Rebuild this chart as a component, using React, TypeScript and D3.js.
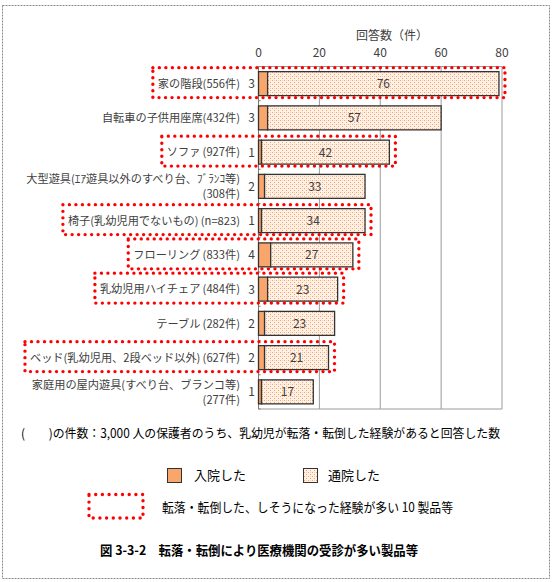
import React, { useEffect, useRef } from "react";
import * as d3 from "d3";

const categories: string[][] = [
  ["家の階段(556件)"],
  ["自転車の子供用座席(432件)"],
  ["ソファ\u2009(927件)"],
  ["大型遊具(ｴｱ遊具以外のすべり台、ﾌﾞﾗﾝｺ等)", "(308件)"],
  ["椅子(乳幼児用でないもの)\u2009(n=823)"],
  ["フローリング\u2009(833件)"],
  ["乳幼児用ハイチェア\u2009(484件)"],
  ["テーブル\u2009(282件)"],
  ["ベッド(乳幼児用、2段ベッド以外)\u2009(627件)"],
  ["家庭用の屋内遊具(すべり台、ブランコ等)", "(277件)"],
];
const hospitalized = [3, 3, 1, 2, 1, 4, 3, 2, 2, 1];
const outpatient = [76, 57, 42, 33, 34, 27, 23, 23, 21, 17];
const highlighted = [true, false, true, false, true, true, true, false, true, false];
const xTicks = [0, 20, 40, 60, 80];

const axisTitle = "回答数（件）";
const footnote = "(　　)の件数：3,000 人の保護者のうち、乳幼児が転落・転倒した経験があると回答した数";
const legendHosp = "入院した";
const legendOut = "通院した";
const legendBox = "転落・転倒した、しそうになった経験が多い 10 製品等";
const caption = "図 3-3-2　転落・転倒により医療機関の受診が多い製品等";

const FONT = "'Noto Sans CJK JP', 'Noto Sans', sans-serif";
const W = 557;
const H = 582;

export default function App() {
  const ref = useRef<SVGSVGElement>(null);
  useEffect(() => {
    const svg = d3.select(ref.current);
    svg.selectAll("*").remove();

    const defs = svg.append("defs");
    const pat = defs
      .append("pattern")
      .attr("id", "dots")
      .attr("patternUnits", "userSpaceOnUse")
      .attr("width", 4)
      .attr("height", 4);
    pat.append("rect").attr("width", 4).attr("height", 4).attr("fill", "#FFF1E6");
    pat.append("rect").attr("x", 0).attr("y", 0).attr("width", 1).attr("height", 1).attr("fill", "#F7A46C");
    pat.append("rect").attr("x", 2).attr("y", 2).attr("width", 1).attr("height", 1).attr("fill", "#F7A46C");
    pat.append("rect").attr("x", 2).attr("y", 0).attr("width", 1).attr("height", 1).attr("fill", "#FCD2B4");

    svg
      .append("rect")
      .attr("x", 2.5)
      .attr("y", 5.5)
      .attr("width", 547)
      .attr("height", 573)
      .attr("fill", "#fff")
      .attr("stroke", "#8a8a8a")
      .attr("stroke-dasharray", "2 1");

    const x = d3.scaleLinear().domain([0, 80]).range([258.5, 502]);
    const y = d3
      .scaleBand<number>()
      .domain(d3.range(categories.length))
      .range([66.5, 409])
      .paddingInner(0.3)
      .paddingOuter(0.15);

    const plot = svg.append("g");
    plot
      .selectAll("line.grid")
      .data(xTicks.slice(1))
      .join("line")
      .attr("x1", (d) => x(d))
      .attr("x2", (d) => x(d))
      .attr("y1", 66.5)
      .attr("y2", 409)
      .attr("stroke", "#9a9a9a")
      .attr("stroke-width", 1);
    plot
      .append("line")
      .attr("x1", x(0))
      .attr("x2", x(80))
      .attr("y1", 66.5)
      .attr("y2", 66.5)
      .attr("stroke", "#9a9a9a");
    plot
      .append("line")
      .attr("x1", x(0))
      .attr("x2", x(80))
      .attr("y1", 409)
      .attr("y2", 409)
      .attr("stroke", "#9a9a9a");
    plot
      .append("line")
      .attr("x1", x(0))
      .attr("x2", x(0))
      .attr("y1", 66.5)
      .attr("y2", 409)
      .attr("stroke", "#7a7a7a");
    const step = (409 - 66.5) / categories.length;
    plot
      .selectAll("line.ctick")
      .data(d3.range(categories.length + 1))
      .join("line")
      .attr("x1", x(0))
      .attr("x2", x(0) + 2)
      .attr("y1", (i) => 66.5 + i * step)
      .attr("y2", (i) => 66.5 + i * step)
      .attr("stroke", "#7a7a7a");

    svg
      .selectAll("text.tick")
      .data(xTicks)
      .join("text")
      .attr("x", (d) => x(d))
      .attr("y", 57)
      .attr("text-anchor", "middle")
      .attr("font-family", FONT)
      .attr("font-size", 12)
      .attr("fill", "#404040")
      .text((d) => String(d));
    svg
      .append("text")
      .attr("x", 392)
      .attr("y", 40)
      .attr("text-anchor", "middle")
      .attr("font-family", FONT)
      .attr("font-size", 12)
      .attr("fill", "#404040")
      .text(axisTitle);

    const bh = y.bandwidth();
    const rows = svg.append("g");
    categories.forEach((lines, i) => {
      const top = y(i)!;
      const cy = top + bh / 2;
      const h = hospitalized[i];
      const o = outpatient[i];
      rows
        .append("rect")
        .attr("x", x(0))
        .attr("y", top)
        .attr("width", x(h) - x(0))
        .attr("height", bh)
        .attr("fill", "#F9A66C")
        .attr("stroke", "#333")
        .attr("stroke-width", 1.3);
      rows
        .append("rect")
        .attr("x", x(h))
        .attr("y", top)
        .attr("width", x(h + o) - x(h))
        .attr("height", bh)
        .attr("fill", "url(#dots)")
        .attr("stroke", "#333")
        .attr("stroke-width", 1.3);
      rows
        .append("text")
        .attr("x", (x(h) + x(h + o)) / 2)
        .attr("y", cy + 4.5)
        .attr("text-anchor", "middle")
        .attr("font-family", FONT)
        .attr("font-size", 12)
        .attr("fill", "#404040")
        .text(String(o));
      rows
        .append("text")
        .attr("x", 251.5)
        .attr("y", cy + 4.5)
        .attr("text-anchor", "middle")
        .attr("font-family", FONT)
        .attr("font-size", 12)
        .attr("fill", "#404040")
        .text(String(h));
      const lab = rows
        .append("text")
        .attr("text-anchor", "end")
        .attr("font-family", FONT)
        .attr("font-size", 11.2)
        .attr("fill", "#404040");
      const offs = lines.length === 1 ? [0] : [-7.5, 7.5];
      lines.forEach((t, k) => {
        lab
          .append("tspan")
          .attr("x", 240)
          .attr("y", cy + 4.2 + offs[k])
          .text(t);
      });
      if (highlighted[i]) {
        const bb = (lab.node() as SVGTextElement).getBBox();
        const left = bb.x - 5;
        const right = x(h + o) + 6;
        const t0 = top - 4;
        const b0 = top + bh + 2;
        rows
          .append("path")
          .attr("d", `M${left},${t0}H${right}V${b0}H${left}Z`)
          .attr("fill", "none")
          .attr("stroke", "#FF0000")
          .attr("stroke-width", 3.4)
          .attr("stroke-linecap", "round")
          .attr("stroke-dasharray", "0 6.5");
      }
    });

    svg
      .append("text")
      .attr("x", 21)
      .attr("y", 438)
      .attr("font-family", FONT)
      .attr("font-size", 12.5)
      .attr("fill", "#000")
      .attr("textLength", 479)
      .attr("lengthAdjust", "spacingAndGlyphs")
      .text(footnote);

    svg
      .append("rect")
      .attr("x", 167.5)
      .attr("y", 468.5)
      .attr("width", 14)
      .attr("height", 14)
      .attr("fill", "#F9A66C")
      .attr("stroke", "#333");
    svg
      .append("text")
      .attr("x", 194)
      .attr("y", 480)
      .attr("font-family", FONT)
      .attr("font-size", 13)
      .attr("fill", "#000")
      .text(legendHosp);
    svg
      .append("rect")
      .attr("x", 303.5)
      .attr("y", 468.5)
      .attr("width", 14)
      .attr("height", 14)
      .attr("fill", "url(#dots)")
      .attr("stroke", "#333");
    svg
      .append("text")
      .attr("x", 328)
      .attr("y", 480)
      .attr("font-family", FONT)
      .attr("font-size", 13)
      .attr("fill", "#000")
      .text(legendOut);
    svg
      .append("path")
      .attr("d", "M89,494.5H143V518H89Z")
      .attr("fill", "none")
      .attr("stroke", "#FF0000")
      .attr("stroke-width", 3.4)
      .attr("stroke-linecap", "round")
      .attr("stroke-dasharray", "0 6.7");
    svg
      .append("text")
      .attr("x", 162)
      .attr("y", 512)
      .attr("font-family", FONT)
      .attr("font-size", 13)
      .attr("fill", "#000")
      .attr("textLength", 291)
      .attr("lengthAdjust", "spacingAndGlyphs")
      .text(legendBox);

    svg
      .append("text")
      .attr("x", 100)
      .attr("y", 555)
      .attr("font-family", FONT)
      .attr("font-size", 13)
      .attr("font-weight", 700)
      .attr("fill", "#000")
      .attr("textLength", 318)
      .attr("lengthAdjust", "spacingAndGlyphs")
      .text(caption);
  }, []);

  return (
    <svg
      ref={ref}
      width={W}
      height={H}
      style={{ position: "absolute", left: 0, top: 0, background: "#fff" }}
    />
  );
}
